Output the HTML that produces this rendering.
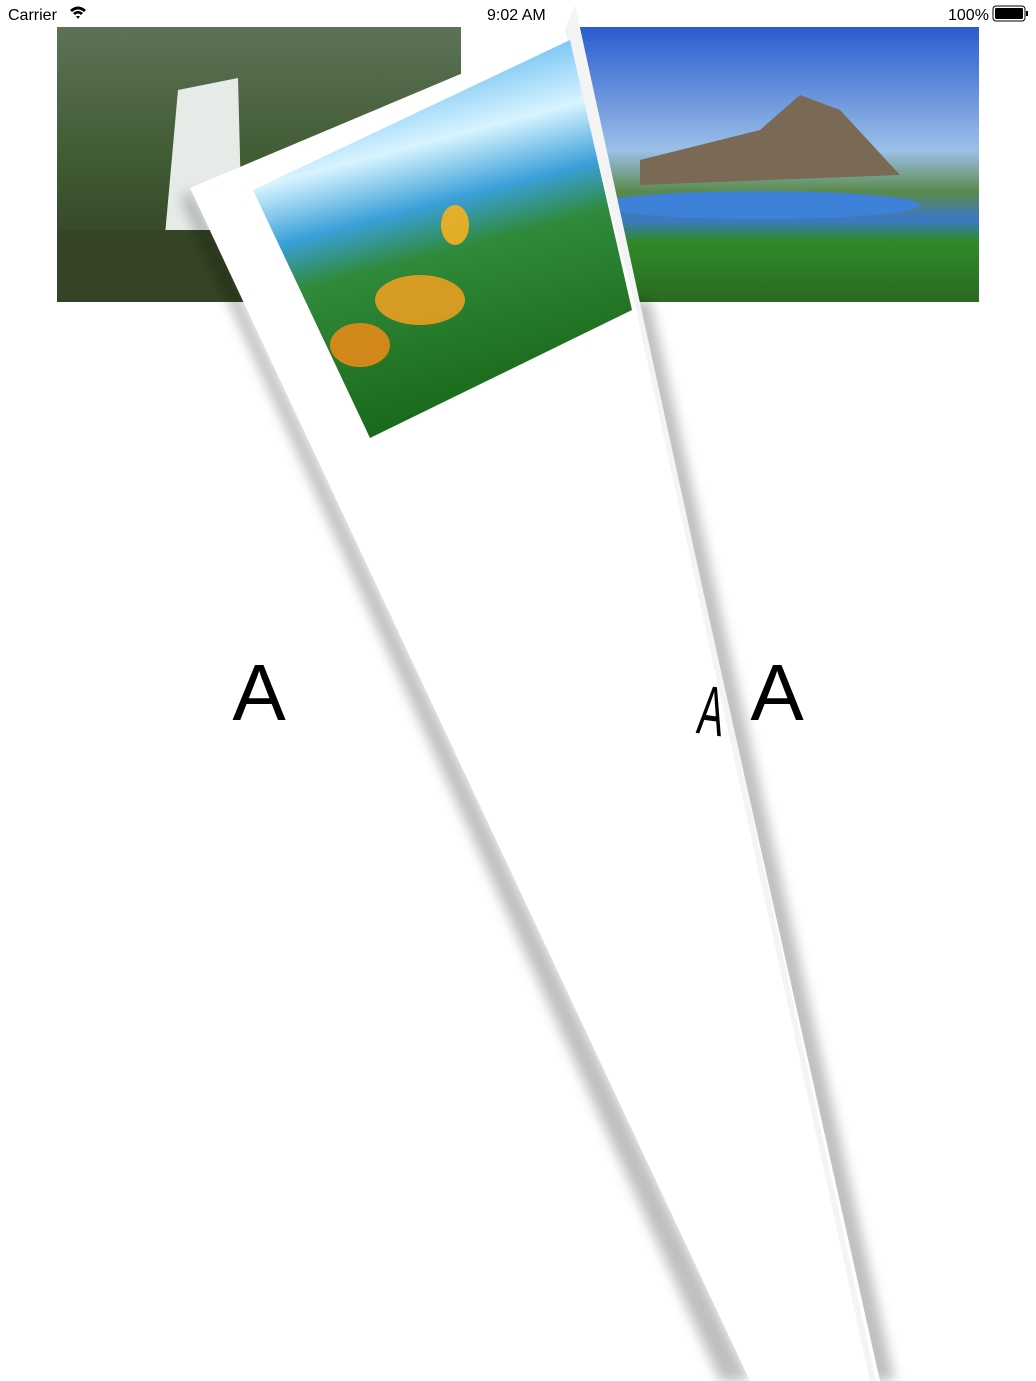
<!DOCTYPE html>
<html><head><meta charset="utf-8">
<style>
html,body{margin:0;padding:0;background:#fff;width:1036px;height:1381px;overflow:hidden;font-family:"Liberation Sans",sans-serif}
svg{display:block}
</style></head>
<body>
<svg width="1036" height="1381" viewBox="0 0 1036 1381">
<defs>
<linearGradient id="wf" x1="0" y1="0" x2="0" y2="1">
<stop offset="0" stop-color="#5d7257"/><stop offset="0.5" stop-color="#3f5a33"/><stop offset="1" stop-color="#2e3a22"/>
</linearGradient>
<linearGradient id="sky" x1="0" y1="0" x2="0" y2="1">
<stop offset="0" stop-color="#2a5bd0"/><stop offset="0.45" stop-color="#9cc0e8"/><stop offset="0.6" stop-color="#5a8a4a"/><stop offset="0.7" stop-color="#3c78c8"/><stop offset="0.78" stop-color="#2f8a2a"/><stop offset="1" stop-color="#2a6a22"/>
</linearGradient>
<linearGradient id="fl" x1="0" y1="0" x2="0.25" y2="1">
<stop offset="0" stop-color="#0a8fe8"/><stop offset="0.35" stop-color="#d8f4ff"/><stop offset="0.5" stop-color="#3aa0d8"/><stop offset="0.62" stop-color="#2f8a3a"/><stop offset="1" stop-color="#1a6a1a"/>
</linearGradient>
<filter id="blur" x="-20%" y="-20%" width="140%" height="140%"><feGaussianBlur stdDeviation="6"/></filter>
</defs>

<text x="8" y="20" font-size="16" fill="#000">Carrier</text>
<path d="M70 10 Q78 3 86 10 L84 12 Q78 7 72 12Z M73 13 Q78 9 83 13 L81 15 Q78 12 75 15Z M76 16 L78 19 L80 16Z" fill="#000"/>
<text x="487" y="20" font-size="16" fill="#000">9:02 AM</text>
<text x="948" y="20" font-size="16" fill="#000">100%</text>
<rect x="993" y="6" width="32" height="15" rx="3" fill="none" stroke="#000" stroke-width="1"/>
<rect x="995" y="8" width="28" height="11" rx="1.5" fill="#000"/>
<rect x="1026" y="11" width="2" height="5" fill="#000"/>

<g>
<rect x="57" y="27" width="404" height="275" fill="url(#wf)"/>
<path d="M165 235 L178 90 L238 78 L242 235Z" fill="#e6ebe8"/>
<rect x="57" y="230" width="200" height="72" fill="#344424"/>
</g>
<g>
<rect x="575" y="27" width="404" height="275" fill="url(#sky)"/>
<path d="M640 160 L760 130 L800 95 L840 110 L900 175 L640 185Z" fill="#7a6a55"/>
<ellipse cx="760" cy="205" rx="160" ry="14" fill="#3d82d8"/>
</g>

<text x="259" y="720" font-size="80" text-anchor="middle" fill="#000">A</text>
<text x="777" y="720" font-size="80" text-anchor="middle" fill="#000">A</text>

<polygon points="190,190 750,1381 720,1381 182,200" fill="#000" opacity="0.25" filter="url(#blur)"/>
<polygon points="630,300 870,1381 895,1381 650,300" fill="#000" opacity="0.25" filter="url(#blur)"/>

<polygon points="190,188 565,30 563,3 575,5 640,310 880,1381 750,1381" fill="#fff"/>
<polygon points="565,30 575,5 642,312 876,1381 870,1381 636,310" fill="#f4f4f4"/>
<text x="712" y="735" font-size="70" text-anchor="middle" fill="#000" transform="rotate(8 712 710) scale(0.55 1) translate(582 0)">A</text>
<g>
<polygon points="253,190 570,40 632,310 370,438" fill="url(#fl)"/>
<ellipse cx="420" cy="300" rx="45" ry="25" fill="#f5a020" opacity="0.85"/>
<ellipse cx="360" cy="345" rx="30" ry="22" fill="#f08a18" opacity="0.85"/>
<ellipse cx="455" cy="225" rx="14" ry="20" fill="#f5b020" opacity="0.9"/>
</g>
</svg>
</body></html>
